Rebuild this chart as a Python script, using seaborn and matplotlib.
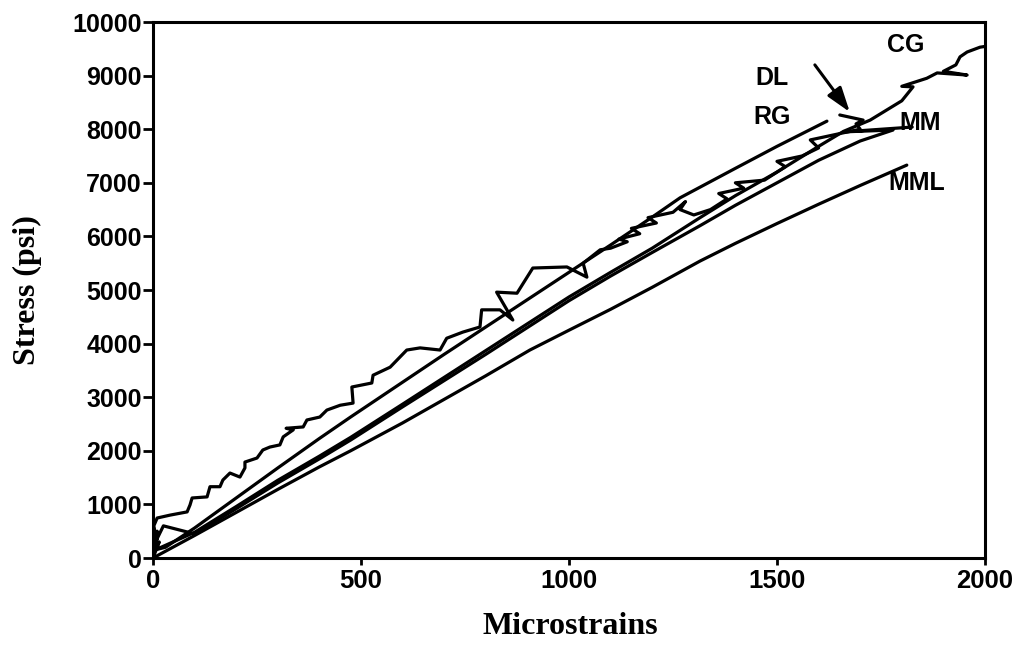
import matplotlib
matplotlib.use("Agg")
import matplotlib.pyplot as plt
import seaborn as sns
import pandas as pd

# ---- data ----
rg_x = [0, 12, 4, 30, 100, 200, 300, 400, 475, 600, 700, 800, 900, 1000, 1100, 1200, 1267, 1400, 1500, 1620]
rg_y = [0, 450, 150, 200, 560, 1120, 1680, 2230, 2630, 3280, 3800, 4310, 4820, 5330, 5840, 6360, 6720, 7270, 7680, 8150]

cg_x = [0, 15, 5, 100, 200, 300, 400, 475, 600, 700, 800, 906, 1000, 1100, 1200, 1315, 1400, 1500,
        1600, 1660, 1724, 1800, 1827, 1800, 1860, 1885, 1957, 1900, 1930, 1940, 1957, 1988, 2005]
cg_y = [0, 300, 150, 480, 960, 1450, 1900, 2250, 2870, 3370, 3870, 4400, 4870, 5330, 5780, 6350, 6760, 7200,
        7680, 7960, 8170, 8530, 8790, 8800, 8950, 9050, 9010, 9080, 9200, 9350, 9440, 9530, 9550]

mm_x = [0, 10, 3, 25, 100, 200, 300, 400, 475, 600, 700, 800, 906, 1000, 1100, 1200, 1315, 1400, 1500,
        1600, 1700, 1779, 1660, 1825]
mm_y = [0, 500, 250, 600, 450, 920, 1400, 1850, 2200, 2820, 3310, 3800, 4330, 4800, 5260, 5700, 6200, 6580, 7000,
        7420, 7780, 7985, 7950, 8040]

mml_x = [0, 100, 200, 300, 400, 475, 600, 700, 800, 906, 1000, 1100, 1200, 1315, 1400, 1500, 1600, 1700, 1812]
mml_y = [0, 420, 850, 1280, 1700, 2000, 2520, 2960, 3400, 3880, 4250, 4640, 5050, 5540, 5870, 6240, 6600, 6950, 7330]

dl_x = [0, 8, 2, 10, 41, 82, 89, 94, 130, 137, 161, 168, 185, 209, 221, 221, 250, 264, 281, 305, 313, 337,
        320, 361, 370, 401, 418, 450, 481, 478, 526, 529, 570, 610, 642, 690, 706, 745, 786, 790, 834, 865,
        826, 875, 913, 995, 1043, 1034, 1075, 1100, 1140, 1120, 1170, 1150, 1210, 1190, 1250, 1280, 1267,
        1300, 1340, 1380, 1360, 1420, 1400, 1470, 1520, 1500, 1560, 1600, 1580, 1640, 1700, 1690, 1707, 1651]
dl_y = [0, 350, 600, 746, 800, 860, 990, 1120, 1140, 1330, 1330, 1455, 1585, 1510, 1680, 1790, 1865, 2015,
        2070, 2110, 2260, 2390, 2420, 2445, 2575, 2630, 2760, 2850, 2890, 3190, 3265, 3410, 3560, 3880, 3920,
        3880, 4100, 4215, 4310, 4630, 4630, 4440, 4960, 4940, 5410, 5430, 5240, 5500, 5750, 5780, 5900, 5950,
        6050, 6150, 6250, 6350, 6450, 6650, 6500, 6400, 6500, 6700, 6800, 6900, 7000, 7050, 7300, 7400, 7500,
        7650, 7800, 7900, 8000, 8100, 8170, 8265]

x_ticks = [0, 500, 1000, 1500, 2000]
y_ticks = [0, 1000, 2000, 3000, 4000, 5000, 6000, 7000, 8000, 9000, 10000]

labels = ["CG", "DL", "RG", "MM", "MML"]
label_x = [1810, 1488, 1488, 1845, 1835]
label_y = [9570, 8950, 8230, 8120, 7000]

arrow_tip = (1675, 8320)
arrow_tail = (1591, 9200)

# ---- drawing ----
sns.set_style("ticks")
plt.rcParams["font.family"] = ["Liberation Sans", "DejaVu Sans"]
plt.rcParams["text.color"] = "black"
plt.rcParams["axes.labelcolor"] = "black"
plt.rcParams["xtick.color"] = "black"
plt.rcParams["ytick.color"] = "black"

fig = plt.figure(figsize=(10.22, 6.56), dpi=100)
ax = fig.add_axes([153 / 1022, 1 - 558 / 656, 832 / 1022, 536 / 656])

series = [(rg_x, rg_y), (cg_x, cg_y), (mm_x, mm_y), (mml_x, mml_y), (dl_x, dl_y)]
for xs, ys in series:
    df = pd.DataFrame({"x": xs, "y": ys})
    sns.lineplot(data=df, x="x", y="y", sort=False, estimator=None, color="black",
                 linewidth=2.3, ax=ax, solid_joinstyle="round", solid_capstyle="round")

ax.set_xlim(0, 2000)
ax.set_ylim(0, 10000)
ax.set_xticks(x_ticks)
ax.set_yticks(y_ticks)
ax.set_xticklabels([str(t) for t in x_ticks], fontsize=18.5, fontweight="bold")
ax.set_yticklabels([str(t) for t in y_ticks], fontsize=18, fontweight="bold")
ax.tick_params(axis="y", direction="out", length=7, width=2, pad=1)
ax.tick_params(axis="x", direction="out", length=5, width=2, pad=3)
for s in ax.spines.values():
    s.set_visible(True)
    s.set_linewidth(2.2)
    s.set_color("black")

ax.set_xlabel("Microstrains", fontsize=23, fontweight="bold", family="Liberation Serif")
ax.set_ylabel("Stress (psi)", fontsize=23, fontweight="bold", family="Liberation Serif")
ax.xaxis.set_label_coords(0.501, -0.10)
ax.yaxis.set_label_coords(-0.133, 0.5)

for t, lx, ly in zip(labels, label_x, label_y):
    ax.text(lx, ly, t, fontsize=18, fontweight="bold", ha="center", va="center")

ax.annotate("", xy=arrow_tip, xytext=arrow_tail,
            arrowprops=dict(arrowstyle="-|>,head_length=1.5,head_width=0.5",
                            color="black", lw=2.2, shrinkA=0, shrinkB=0))

fig.savefig("out.png", dpi=100)
